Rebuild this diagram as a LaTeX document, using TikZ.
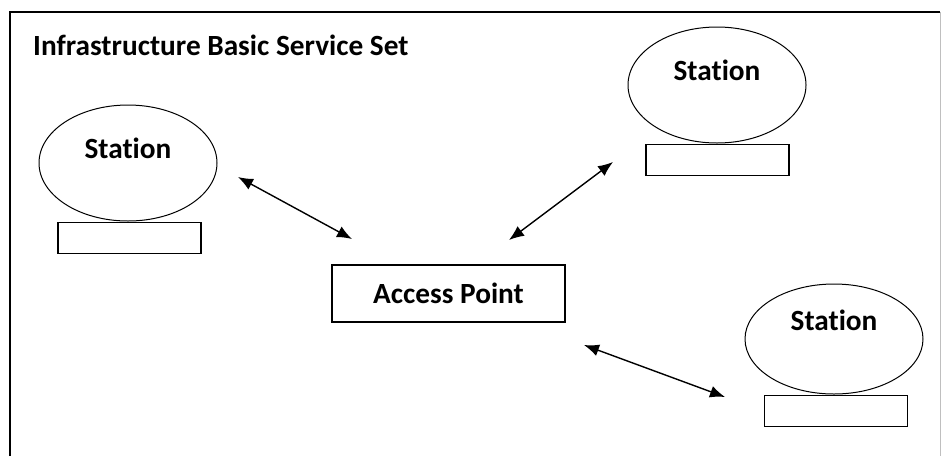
\documentclass[tikz,border=0pt]{standalone}
\usepackage{fontspec}
\setmainfont{Carlito}[Ligatures=NoCommon]
\usetikzlibrary{shapes.geometric,arrows.meta}
\begin{document}
\begin{tikzpicture}[x=1pt,y=-1pt,
  stationell/.style={draw, ellipse, line width=1pt, minimum width=178pt, minimum height=116pt, inner sep=0pt},
  stationbox/.style={draw, line width=1.2pt, minimum width=143pt, minimum height=31pt, inner sep=0pt},
  apbox/.style={draw, line width=1.2pt, minimum width=233pt, minimum height=57pt, inner sep=0pt, font=\bfseries\fontsize{29.3}{33}\selectfont},
  lbl/.style={font=\bfseries\fontsize{29.3}{33}\selectfont},
  link/.style={line width=1.4pt, {Latex[length=15pt,width=12pt]}-{Latex[length=15pt,width=12pt]}}]
\useasboundingbox (0,0) rectangle (941,456);
\fill[white] (0,0) rectangle (941,456);
\draw[line width=1.8pt] (10,456) -- (10,12) -- (940,12);
\draw[line width=0.8pt, black!25] (940,12) -- (940,456);
\node[lbl, anchor=west, inner sep=0pt] (title) at (33,45) {Infrastructure Basic Service Set};
% stations
\node[stationell, label={[lbl, yshift=15pt]center:Station}] (s1) at (128,163) {};
\node[stationbox] (b1) at (129.5,238) {};
\node[stationell, label={[lbl, yshift=15pt]center:Station}] (s2) at (717,85) {};
\node[stationbox] (b2) at (717.5,160) {};
\node[stationell, minimum height=110pt, label={[lbl, yshift=19pt]center:Station}] (s3) at (834,339) {};
\node[stationbox] (b3) at (836,411) {};
% access point
\node[apbox] (ap) at (448.5,293.5) {Access Point};
% arrow ends
\coordinate (a1s) at (238,177);
\coordinate (a1e) at (352,239);
\coordinate (a2s) at (509,240);
\coordinate (a2e) at (613,162);
\coordinate (a3s) at (584,345);
\coordinate (a3e) at (725,397);
\draw[link] (a1s) -- (a1e);
\draw[link] (a2s) -- (a2e);
\draw[link] (a3s) -- (a3e);
\end{tikzpicture}
\end{document}
